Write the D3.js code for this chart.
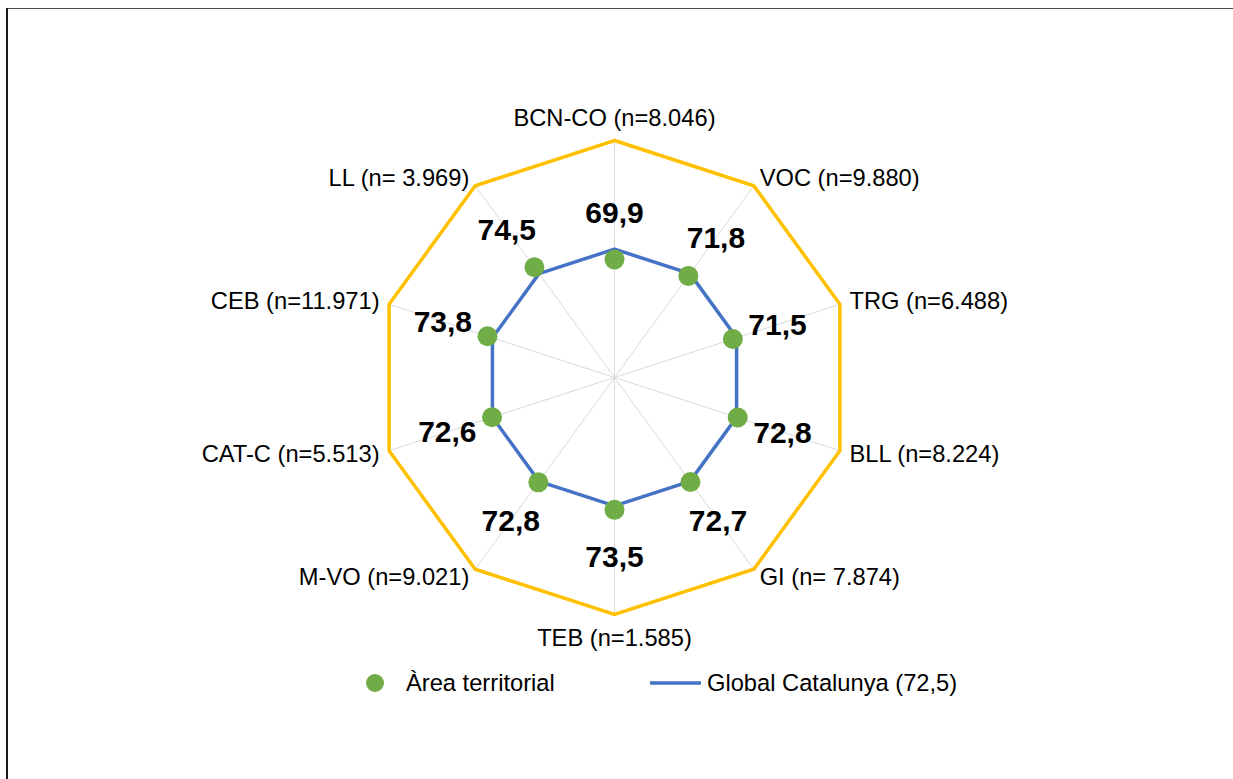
<!DOCTYPE html>
<html>
<head>
<meta charset="utf-8">
<script src="https://cdn.jsdelivr.net/npm/d3@7"></script>
<style>
  html, body { margin: 0; padding: 0; background: #ffffff; }
  svg { display: block; }
  text { font-family: "Liberation Sans", Arial, sans-serif; }
</style>
</head>
<body>
<svg id="chart" width="1233" height="779"></svg>
<script>
// ---- data ----
const categories = [
  "BCN-CO (n=8.046)", "VOC (n=9.880)", "TRG (n=6.488)", "BLL (n=8.224)",
  "GI (n= 7.874)", "TEB (n=1.585)", "M-VO (n=9.021)", "CAT-C (n=5.513)",
  "CEB (n=11.971)", "LL (n= 3.969)"
];
const areaValues = [69.9, 71.8, 71.5, 72.8, 72.7, 73.5, 72.8, 72.6, 73.8, 74.5];
const globalValues = [72.5, 72.5, 72.5, 72.5, 72.5, 72.5, 72.5, 72.5, 72.5, 72.5];
const scaleDomain = [40, 100];
const legendLabels = ["Àrea territorial", "Global Catalunya (72,5)"];

// ---- layout ----
const svg = d3.select("#chart");
const cx = 614.5, cy = 377.5, R = 237;
const n = categories.length;
const r = d3.scaleLinear().domain(scaleDomain).range([0, R]);
const ang = d3.scaleLinear().domain([0, n]).range([0, 2 * Math.PI]);
const pt = (i, rad) => [cx + rad * Math.sin(ang(i)), cy - rad * Math.cos(ang(i))];
const fmt = v => d3.format(".1f")(v).replace(".", ",");

// frame
svg.append("rect").attr("x", 7.5).attr("y", 8.5).attr("width", 1400).attr("height", 900)
  .attr("fill", "none").attr("stroke", "#4d4d4d").attr("stroke-width", 1);
svg.append("line").attr("x1", 7).attr("x2", 7).attr("y1", 8).attr("y2", 779)
  .attr("stroke", "#1a1a1a").attr("stroke-width", 2);

// spokes
svg.append("g").selectAll("line").data(categories).join("line")
  .attr("x1", cx).attr("y1", cy)
  .attr("x2", (d, i) => pt(i, r(scaleDomain[1]))[0])
  .attr("y2", (d, i) => pt(i, r(scaleDomain[1]))[1])
  .attr("stroke", "#d9d9d9").attr("stroke-width", 1);

// outer ring (max gridline)
const lineR = d3.lineRadial().angle((d, i) => ang(i)).radius(d => r(d)).curve(d3.curveLinearClosed);
svg.append("path")
  .attr("transform", `translate(${cx},${cy})`)
  .attr("d", lineR(categories.map(() => scaleDomain[1])))
  .attr("fill", "none").attr("stroke", "#ffc000").attr("stroke-width", 3.5)
  .attr("stroke-linejoin", "miter");

// global line
svg.append("path")
  .attr("transform", `translate(${cx},${cy})`)
  .attr("d", lineR(globalValues))
  .attr("fill", "none").attr("stroke", "#4472c4").attr("stroke-width", 3.5)
  .attr("stroke-linejoin", "round");

// area points
svg.append("g").selectAll("circle").data(areaValues).join("circle")
  .attr("cx", (d, i) => pt(i, r(d))[0])
  .attr("cy", (d, i) => pt(i, r(d))[1])
  .attr("r", 10).attr("fill", "#70ad47");

// data labels
svg.append("g").selectAll("text").data(areaValues).join("text")
  .attr("x", (d, i) => pt(i, r(d) + 47)[0])
  .attr("y", (d, i) => pt(i, r(d) + 47)[1])
  .attr("text-anchor", "middle").attr("dominant-baseline", "central")
  .attr("font-size", 30).attr("font-weight", "bold").attr("fill", "#000")
  .text(d => fmt(d));

// category labels
svg.append("g").selectAll("text").data(categories).join("text")
  .each(function (d, i) {
    const s = Math.sin(ang(i));
    const vertical = Math.abs(s) < 0.01;
    const p = pt(i, R + (vertical ? 23 : 10));
    d3.select(this)
      .attr("x", p[0]).attr("y", p[1])
      .attr("text-anchor", vertical ? "middle" : (s > 0 ? "start" : "end"));
  })
  .attr("dominant-baseline", "central")
  .attr("font-size", 23.7).attr("fill", "#000")
  .text(d => d);

// legend
const ly = 683;
const lg = svg.append("g");
lg.append("circle").attr("cx", 375).attr("cy", ly).attr("r", 9).attr("fill", "#70ad47");
lg.append("text").attr("x", 406).attr("y", ly).attr("dominant-baseline", "central")
  .attr("font-size", 23.7).text(legendLabels[0]);
lg.append("line").attr("x1", 650).attr("x2", 701).attr("y1", ly).attr("y2", ly)
  .attr("stroke", "#4472c4").attr("stroke-width", 3.5);
lg.append("text").attr("x", 707).attr("y", ly).attr("dominant-baseline", "central")
  .attr("font-size", 23.7).text(legendLabels[1]);
</script>
</body>
</html>
